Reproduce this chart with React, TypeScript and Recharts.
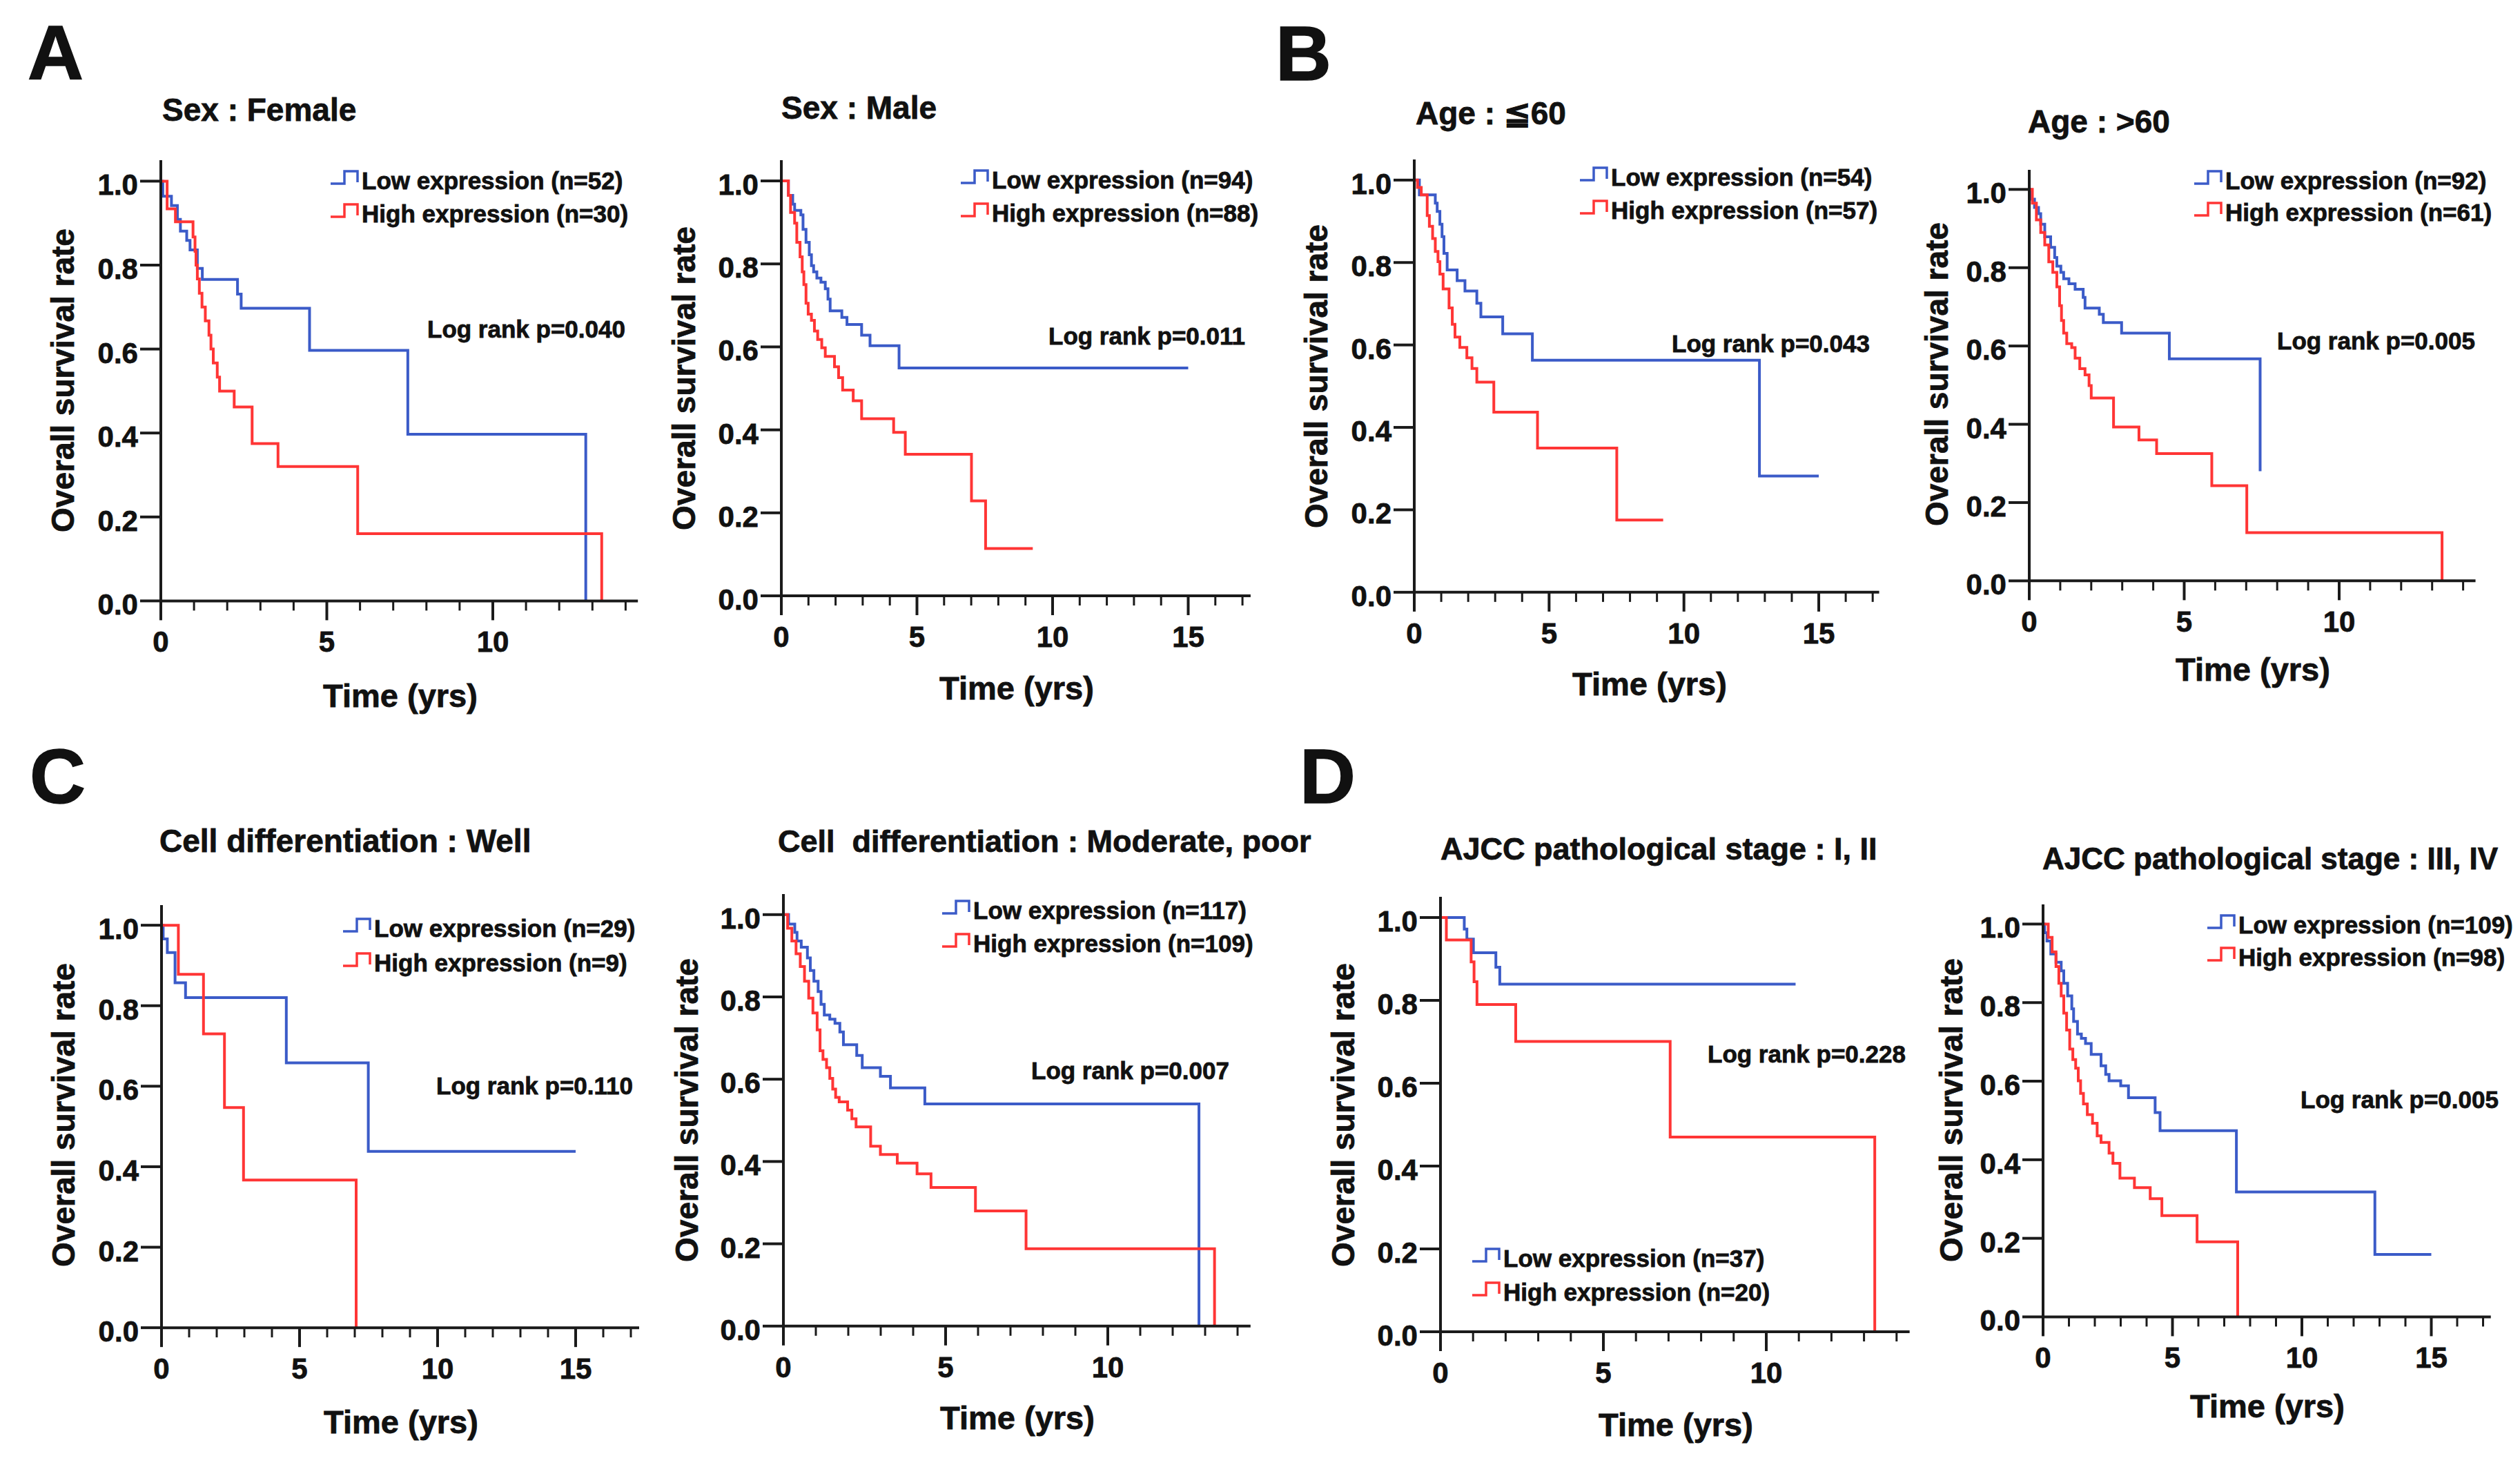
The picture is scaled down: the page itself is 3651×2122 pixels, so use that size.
import React from "react";
import { LineChart, Line, XAxis, YAxis } from "recharts";

// Kaplan-Meier curves: [time (yrs), survival]
const femaleLow = [[0, 1], [0.06, 0.964], [0.32, 0.942], [0.5, 0.909], [0.59, 0.881], [0.78, 0.859], [0.88, 0.836], [1.1, 0.792], [1.25, 0.766], [2.31, 0.731], [2.42, 0.697], [4.48, 0.597], [7.44, 0.397], [12.8, 0]];
const femaleHigh = [[0, 1], [0.19, 0.934], [0.44, 0.903], [0.97, 0.867], [1.03, 0.833], [1.06, 0.8], [1.1, 0.767], [1.16, 0.733], [1.24, 0.7], [1.34, 0.667], [1.45, 0.633], [1.51, 0.6], [1.58, 0.567], [1.7, 0.533], [1.77, 0.5], [2.21, 0.462], [2.75, 0.375], [3.53, 0.32], [5.93, 0.16], [13.28, 0]];

const maleLow = [[0, 1], [0.26, 0.965], [0.42, 0.944], [0.49, 0.929], [0.72, 0.918], [0.8, 0.883], [0.91, 0.852], [1.03, 0.822], [1.11, 0.796], [1.19, 0.781], [1.31, 0.766], [1.46, 0.756], [1.62, 0.74], [1.72, 0.715], [1.8, 0.687], [2.23, 0.671], [2.42, 0.654], [2.96, 0.628], [3.27, 0.603], [4.34, 0.549], [15, 0.549]];
const maleHigh = [[0, 1], [0.26, 0.965], [0.34, 0.924], [0.49, 0.898], [0.57, 0.852], [0.69, 0.817], [0.77, 0.781], [0.83, 0.75], [0.91, 0.705], [0.99, 0.679], [1.11, 0.664], [1.22, 0.638], [1.34, 0.618], [1.49, 0.598], [1.62, 0.577], [1.96, 0.552], [2.11, 0.526], [2.26, 0.496], [2.65, 0.47], [2.96, 0.427], [4.14, 0.394], [4.57, 0.341], [7.01, 0.229], [7.53, 0.114], [9.27, 0.114]];

const youngLow = [[0, 1], [0.19, 0.964], [0.78, 0.944], [0.85, 0.924], [0.95, 0.893], [1.03, 0.863], [1.1, 0.822], [1.22, 0.782], [1.59, 0.756], [1.88, 0.731], [2.32, 0.701], [2.47, 0.668], [3.28, 0.627], [4.38, 0.563], [12.8, 0.282], [15, 0.282]];
const youngHigh = [[0, 1], [0.12, 0.982], [0.26, 0.964], [0.48, 0.914], [0.56, 0.888], [0.68, 0.858], [0.78, 0.827], [0.88, 0.802], [0.95, 0.772], [1.07, 0.736], [1.29, 0.69], [1.41, 0.65], [1.51, 0.619], [1.69, 0.594], [1.95, 0.569], [2.14, 0.543], [2.32, 0.51], [2.95, 0.437], [4.57, 0.35], [7.51, 0.175], [9.23, 0.175]];

const oldLow = [[0, 1], [0.04, 0.975], [0.17, 0.954], [0.3, 0.938], [0.37, 0.911], [0.5, 0.879], [0.69, 0.852], [0.82, 0.826], [0.89, 0.804], [1.02, 0.788], [1.11, 0.772], [1.28, 0.759], [1.48, 0.745], [1.74, 0.724], [1.8, 0.697], [2.26, 0.681], [2.39, 0.66], [2.98, 0.633], [4.52, 0.567], [7.45, 0.28]];
const oldHigh = [[0, 1], [0.1, 0.965], [0.23, 0.922], [0.37, 0.89], [0.5, 0.858], [0.63, 0.815], [0.76, 0.788], [0.89, 0.751], [0.98, 0.703], [1.04, 0.665], [1.11, 0.633], [1.21, 0.606], [1.37, 0.596], [1.48, 0.569], [1.63, 0.542], [1.8, 0.526], [1.93, 0.499], [2.0, 0.467], [2.72, 0.393], [3.54, 0.36], [4.11, 0.325], [5.89, 0.243], [7.02, 0.123], [13.32, 0]];

const wellLow = [[0, 1], [0.06, 0.966], [0.21, 0.932], [0.49, 0.857], [0.87, 0.82], [4.52, 0.658], [7.49, 0.438], [15, 0.438]];
const wellHigh = [[0, 1], [0.61, 0.878], [1.52, 0.73], [2.28, 0.547], [2.97, 0.367], [7.05, 0]];

const modLow = [[0, 1], [0.16, 0.977], [0.35, 0.957], [0.42, 0.936], [0.55, 0.921], [0.74, 0.895], [0.83, 0.864], [0.94, 0.838], [1.07, 0.813], [1.16, 0.782], [1.26, 0.756], [1.43, 0.746], [1.59, 0.736], [1.74, 0.715], [1.85, 0.684], [2.26, 0.658], [2.43, 0.628], [2.99, 0.607], [3.3, 0.579], [4.36, 0.54], [12.81, 0]];
const modHigh = [[0, 1], [0.13, 0.967], [0.26, 0.936], [0.39, 0.905], [0.52, 0.874], [0.65, 0.838], [0.78, 0.797], [0.91, 0.761], [1.04, 0.72], [1.13, 0.669], [1.22, 0.648], [1.33, 0.628], [1.43, 0.602], [1.52, 0.576], [1.61, 0.556], [1.72, 0.545], [1.98, 0.525], [2.11, 0.504], [2.24, 0.484], [2.69, 0.437], [2.99, 0.417], [3.51, 0.396], [4.12, 0.37], [4.55, 0.337], [5.92, 0.28], [7.48, 0.188], [13.29, 0]];

const earlyLow = [[0, 1], [0.73, 0.972], [0.81, 0.948], [1.01, 0.915], [1.7, 0.88], [1.82, 0.839], [10.9, 0.839]];
const earlyHigh = [[0, 1], [0.18, 0.946], [0.94, 0.893], [1.03, 0.845], [1.12, 0.79], [2.31, 0.701], [7.05, 0.47], [13.33, 0]];

const lateLow = [[0, 1], [0.06, 0.978], [0.15, 0.957], [0.3, 0.924], [0.5, 0.903], [0.7, 0.881], [0.8, 0.849], [0.95, 0.817], [1.11, 0.784], [1.18, 0.752], [1.33, 0.72], [1.48, 0.709], [1.64, 0.696], [1.86, 0.668], [2.24, 0.639], [2.42, 0.617], [2.55, 0.601], [3.0, 0.588], [3.3, 0.558], [4.33, 0.52], [4.52, 0.474], [7.47, 0.318], [12.82, 0.159], [15, 0.159]];
const lateHigh = [[0, 1], [0.2, 0.966], [0.35, 0.929], [0.5, 0.892], [0.61, 0.849], [0.7, 0.817], [0.8, 0.773], [0.91, 0.73], [1.03, 0.682], [1.15, 0.655], [1.26, 0.633], [1.36, 0.601], [1.45, 0.569], [1.56, 0.542], [1.71, 0.515], [1.91, 0.493], [2.09, 0.461], [2.24, 0.444], [2.55, 0.417], [2.7, 0.391], [2.97, 0.353], [3.53, 0.329], [4.14, 0.301], [4.59, 0.258], [5.95, 0.191], [7.52, 0]];

const titles = ["Sex : Female", "Sex : Male", "Age : ≦60", "Age : >60", "Cell differentiation : Well", "Cell  differentiation : Moderate, poor", "AJCC pathological stage : I, II", "AJCC pathological stage : III, IV"];
const lowN = [52, 94, 54, 92, 29, 117, 37, 109];
const highN = [30, 88, 57, 61, 9, 109, 20, 98];
const pValues = ["0.040", "0.011", "0.043", "0.005", "0.110", "0.007", "0.228", "0.005"];
const yTicks = [0, 0.2, 0.4, 0.6, 0.8, 1.0];
const xTicks14 = [0, 1, 2, 3, 4, 5, 6, 7, 8, 9, 10, 11, 12, 13, 14];
const xTicks17 = [0, 1, 2, 3, 4, 5, 6, 7, 8, 9, 10, 11, 12, 13, 14, 15, 16, 17];
const letters = ["A", "B", "C", "D"];

const series = [
  [femaleLow, femaleHigh], [maleLow, maleHigh], [youngLow, youngHigh], [oldLow, oldHigh],
  [wellLow, wellHigh], [modLow, modHigh], [earlyLow, earlyHigh], [lateLow, lateHigh],
];

// layout of each panel, in page pixels
const layout = [
  { x0: 233, ppy: 48.1, xMax: 14.37, y0: 870, unit: 608, title: [235, 175, 46], leg: [479, 261, 309], lr: [619, 489], ylab: [91, 551], xlab: [580, 1024] },
  { x0: 1132, ppy: 39.3, xMax: 17.3, y0: 863, unit: 601, title: [1132, 172, 46], leg: [1392, 260, 308], lr: [1519, 499], ylab: [991, 548], xlab: [1473, 1013] },
  { x0: 2049, ppy: 39.07, xMax: 17.24, y0: 858, unit: 597, title: [2051, 180, 46], leg: [2289, 256, 304], lr: [2422, 510], ylab: [1907, 545], xlab: [2390, 1007] },
  { x0: 2940, ppy: 44.9, xMax: 14.4, y0: 841, unit: 567, title: [2938, 192, 46], leg: [3179, 261, 307], lr: [3299, 506], ylab: [2806, 542], xlab: [3264, 986] },
  { x0: 234, ppy: 40.0, xMax: 17.3, y0: 1923, unit: 583, title: [231, 1234, 46], leg: [497, 1344, 1394], lr: [632, 1585], ylab: [92, 1615], xlab: [581, 2076] },
  { x0: 1135, ppy: 47.0, xMax: 14.4, y0: 1921, unit: 596, title: [1127, 1234, 45], leg: [1365, 1318, 1366], lr: [1494, 1563], ylab: [995, 1608], xlab: [1474, 2070] },
  { x0: 2087, ppy: 47.2, xMax: 14.4, y0: 1929, unit: 600, title: [2087, 1245, 45], leg: [2133, 1822, 1871], lr: [2474, 1539], ylab: [1946, 1615], xlab: [2428, 2080] },
  { x0: 2960, ppy: 37.5, xMax: 17.3, y0: 1907, unit: 569, title: [2959, 1259, 44], leg: [3198, 1339, 1386], lr: [3333, 1605], ylab: [2827, 1608], xlab: [3285, 2053] },
];
const letterPos = [[40, 115], [1848, 116], [43, 1163], [1883, 1163]];

const FONT = '"Liberation Sans", Arial, Helvetica, sans-serif';
const BLUE = "#3b5bc8";
const RED = "#ff3535";
const AXIS = "#1a1a1a";
const INK = "#111";

const toPts = (a: number[][]) => a.map(([t, s]) => ({ t, s }));

const XTick = (props: any) => {
  const { x, y, payload } = props;
  const major = payload.value % 5 === 0;
  return (
    <g>
      <line x1={x} x2={x} y1={y} y2={y + (major ? 28 : 14)} stroke={AXIS} strokeWidth={major ? 4 : 3} />
      {major && (
        <text x={x} y={y + 74} textAnchor="middle" fontFamily={FONT} fontWeight="bold" fontSize={42} fill={INK} stroke={INK} strokeWidth={0.8}>
          {payload.value}
        </text>
      )}
    </g>
  );
};

const YTick = (props: any) => {
  const { x, y, payload } = props;
  return (
    <g>
      <line x1={x - 30} x2={x} y1={y} y2={y} stroke={AXIS} strokeWidth={4} />
      <text x={x - 33} y={y + 20} textAnchor="end" fontFamily={FONT} fontWeight="bold" fontSize={42} fill={INK} stroke={INK} strokeWidth={0.8}>
        {payload.value.toFixed(1)}
      </text>
    </g>
  );
};

function KMPanel({ i }: { i: number }) {
  const p = layout[i];
  const L = 150, R = 20, T = 20, B = 100;
  const plotW = p.xMax * p.ppy;
  const plotH = 1.05 * p.unit;
  const width = L + plotW + R;
  const height = T + plotH + B;
  const [low, high] = series[i];
  return (
    <div style={{ position: "absolute", left: p.x0 - L, top: p.y0 - plotH - T, width, height }}>
      <LineChart width={width} height={height} margin={{ top: T, right: R, bottom: 0, left: 0 }}>
        <XAxis
          type="number"
          dataKey="t"
          domain={[0, p.xMax]}
          ticks={p.xMax > 15 ? xTicks17 : xTicks14}
          interval={0}
          allowDataOverflow
          height={B}
          tickLine={false}
          tickSize={0}
          tickMargin={0}
          axisLine={{ stroke: AXIS, strokeWidth: 4 }}
          tick={(tp: any) => <XTick {...tp} />}
        />
        <YAxis
          type="number"
          dataKey="s"
          domain={[0, 1.05]}
          ticks={yTicks}
          interval={0}
          allowDataOverflow
          width={L}
          tickLine={false}
          tickSize={0}
          tickMargin={0}
          axisLine={{ stroke: AXIS, strokeWidth: 4 }}
          tick={(tp: any) => <YTick {...tp} />}
        />
        <Line data={toPts(low)} dataKey="s" type="stepAfter" stroke={BLUE} strokeWidth={4} dot={false} activeDot={false} isAnimationActive={false} />
        <Line data={toPts(high)} dataKey="s" type="stepAfter" stroke={RED} strokeWidth={4} dot={false} activeDot={false} isAnimationActive={false} />
      </LineChart>
    </div>
  );
}

function Annotations() {
  return (
    <svg width={3651} height={2122} style={{ position: "absolute", left: 0, top: 0, pointerEvents: "none" }} fontFamily={FONT} fontWeight="bold" fill={INK}>
      <defs>
        <clipPath id="clipTitle">
          <rect x={0} y={0} width={1906} height={2122} />
        </clipPath>
      </defs>
      {letters.map((l, k) => (
        <text key={l} x={letterPos[k][0]} y={letterPos[k][1]} fontSize={112} stroke={INK} strokeWidth={1.5}>{l}</text>
      ))}
      {layout.map((p, i) => {
        const [lx, r1, r2] = p.leg;
        const icon = (cy: number, c: string) => (
          <path d={`M${lx},${cy + 5} H${lx + 20} V${cy - 13} H${lx + 39} V${cy + 3}`} fill="none" stroke={c} strokeWidth={3.5} />
        );
        return (
          <g key={i} stroke={INK} strokeWidth={0.8}>
            <text x={p.title[0]} y={p.title[1]} fontSize={p.title[2]} style={{ whiteSpace: "pre" }} clipPath={i === 5 ? "url(#clipTitle)" : undefined}>
              {titles[i]}
            </text>
            {icon(r1, BLUE)}
            {icon(r2, RED)}
            <text x={lx + 45} y={r1 + 13} fontSize={35}>{`Low expression (n=${lowN[i]})`}</text>
            <text x={lx + 45} y={r2 + 13} fontSize={35}>{`High expression (n=${highN[i]})`}</text>
            <text x={p.lr[0]} y={p.lr[1]} fontSize={35}>{`Log rank p=${pValues[i]}`}</text>
            <text transform={`translate(${p.ylab[0]},${p.ylab[1]}) rotate(-90)`} y={16} textAnchor="middle" fontSize={46}>
              Overall survival rate
            </text>
            <text x={p.xlab[0]} y={p.xlab[1]} textAnchor="middle" fontSize={47}>Time (yrs)</text>
          </g>
        );
      })}
    </svg>
  );
}

export default function App() {
  return (
    <div style={{ position: "relative", width: 3651, height: 2122, background: "#fff", overflow: "hidden" }}>
      <style>{"body{margin:0}"}</style>
      {layout.map((_, i) => (
        <KMPanel key={i} i={i} />
      ))}
      <Annotations />
    </div>
  );
}
